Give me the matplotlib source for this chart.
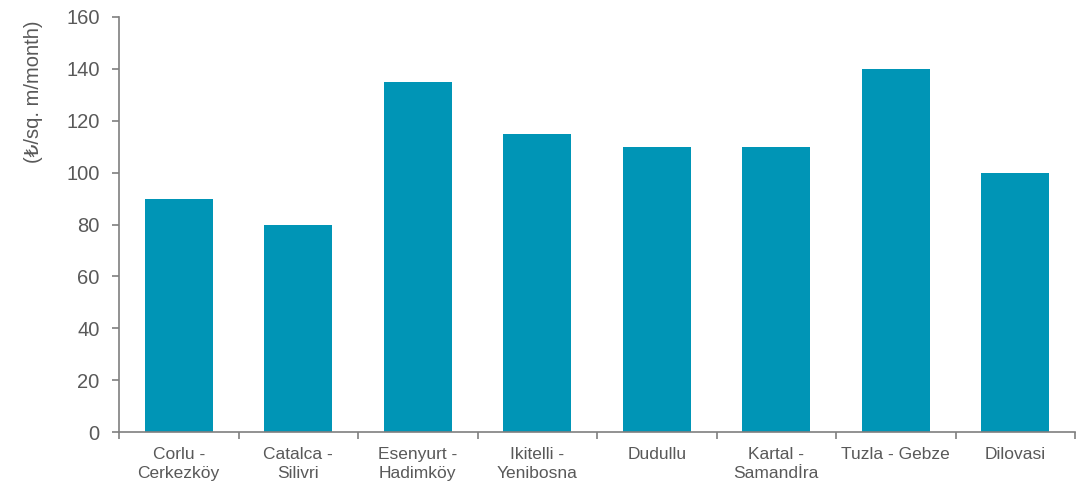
import numpy as np
import matplotlib.pyplot as plt

plt.rcParams['font.family'] = ['Liberation Sans', 'DejaVu Sans']

categories = ['Corlu -\nCerkezköy', 'Catalca -\nSilivri', 'Esenyurt -\nHadimköy',
              'Ikitelli -\nYenibosna', 'Dudullu', 'Kartal -\nSamandİra',
              'Tuzla - Gebze', 'Dilovasi']
rents = [90, 80, 135, 115, 110, 110, 140, 100]
yticks = [0, 20, 40, 60, 80, 100, 120, 140, 160]

grey = '#595959'
axis_grey = '#7f7f7f'

fig = plt.figure(figsize=(10.76, 4.82), dpi=100)
ax = fig.add_axes([119/1076, 1-432/482, (1075-119)/1076, (432-17)/482])

x = np.arange(len(categories))
ax.bar(x, rents, width=0.57, color='#0095B6')

ax.set_xlim(-0.5, len(categories) - 0.5)
ax.set_ylim(0, 160)
ax.set_yticks(yticks)
ax.set_yticklabels([str(v) for v in yticks], color=grey, fontsize=14.5)

ax.set_xticks(x)
ax.set_xticklabels(categories, color=grey, fontsize=12.5, linespacing=1.3)
ax.tick_params(axis='x', length=0, pad=11)
ax.set_xticks(np.arange(-0.5, len(categories)), minor=True)
ax.tick_params(axis='x', which='minor', length=5, width=1.2, color=axis_grey, direction='out')
ax.tick_params(axis='y', length=5, width=1.2, color=axis_grey, direction='out', pad=9)

for s in ['top', 'right']:
    ax.spines[s].set_visible(False)
for s in ['left', 'bottom']:
    ax.spines[s].set_color(axis_grey)
    ax.spines[s].set_linewidth(1.2)

ax.set_ylabel('(₺/sq. m/month)', color=grey, fontsize=14.5)
ax.yaxis.set_label_coords(-0.079, 0.82)

fig.savefig('out.png', dpi=100)
